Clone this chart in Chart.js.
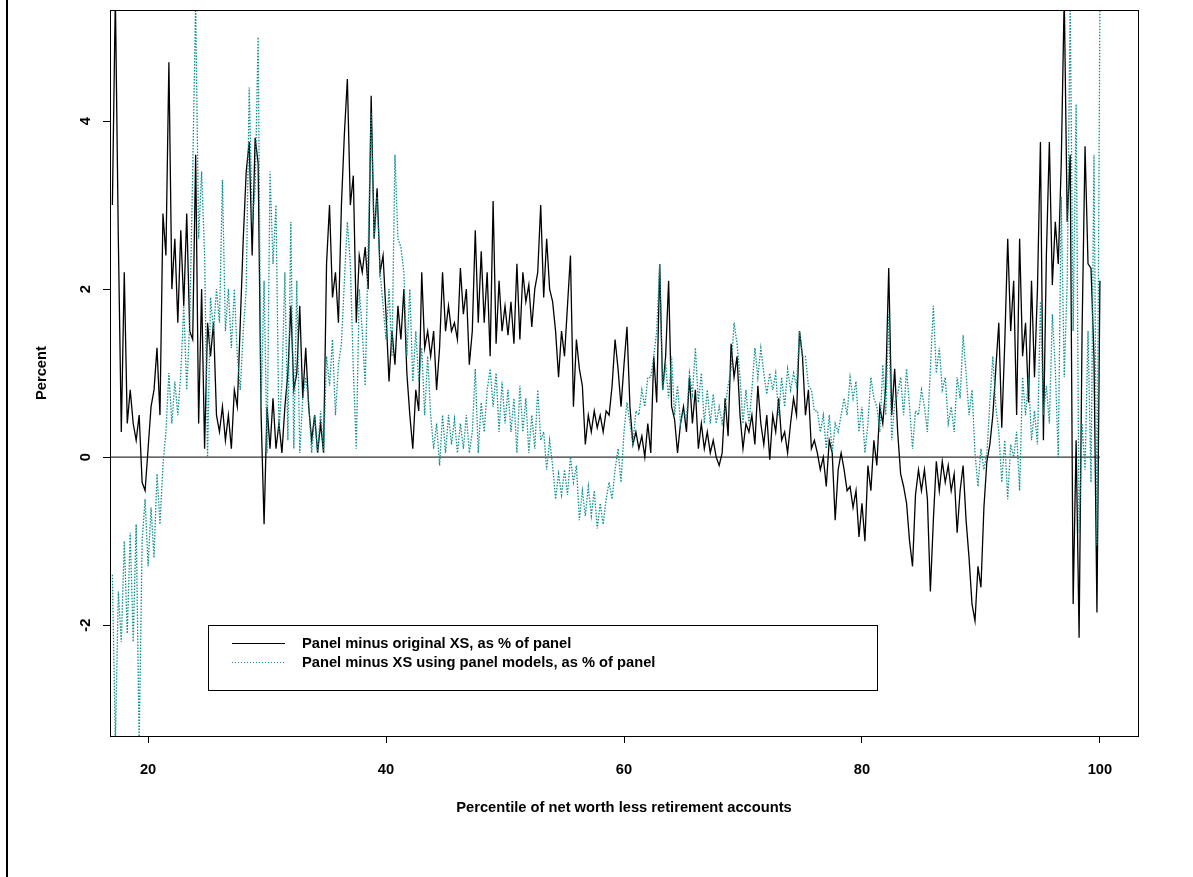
<!DOCTYPE html>
<html>
<head>
<meta charset="utf-8">
<title>Panel minus XS</title>
<script src="https://cdn.jsdelivr.net/npm/chart.js@4.4.0/dist/chart.umd.min.js"></script>
<style>
  html, body { margin: 0; padding: 0; background: #fff; }
  #wrap { position: relative; width: 1193px; height: 877px; }
</style>
</head>
<body>
<div id="wrap"><canvas id="xsChart" width="1193" height="877"></canvas></div>
<script>
// percentile grid: first point and spacing
const pctStart = 17;
const pctStep = 0.25;

// Panel minus original XS, as % of panel (one row per percentile: .00 .25 .50 .75)
const panelMinusOrigXS = [
  3.0, 5.5, 2.6, 0.3,      // 17
  2.2, 0.4, 0.8, 0.4,      // 18
  0.2, 0.5, -0.3, -0.4,    // 19
  0.1, 0.6, 0.8, 1.3,      // 20
  0.5, 2.9, 2.4, 4.7,      // 21
  2.0, 2.6, 1.6, 2.7,      // 22
  1.8, 2.9, 1.5, 1.4,      // 23
  3.6, 0.4, 2.0, 0.1,      // 24
  1.6, 1.2, 1.6, 0.5,      // 25
  0.3, 0.6, 0.2, 0.5,      // 26
  0.1, 0.8, 0.6, 1.6,      // 27
  2.6, 3.4, 3.75, 2.4,     // 28
  3.8, 3.5, 0.5, -0.8,     // 29
  0.6, 0.1, 0.7, 0.1,      // 30
  0.4, 0.05, 0.6, 1.0,     // 31
  1.8, 0.8, 1.0, 1.8,      // 32
  0.7, 1.3, 0.6, 0.2,      // 33
  0.5, 0.05, 0.4, 0.05,    // 34
  2.3, 3.0, 1.9, 2.2,      // 35
  1.6, 3.0, 3.85, 4.5,     // 36
  3.0, 3.35, 1.6, 2.4,     // 37
  2.2, 2.5, 2.0, 4.3,      // 38
  2.6, 3.2, 2.2, 2.4,      // 39
  1.7, 0.9, 1.5, 1.1,      // 40
  1.8, 1.4, 2.0, 1.0,      // 41
  0.5, 0.1, 0.8, 0.55,     // 42
  2.2, 1.3, 1.5, 1.2,      // 43
  1.5, 0.8, 1.3, 2.2,      // 44
  1.5, 1.8, 1.5, 1.6,      // 45
  1.4, 2.25, 1.7, 2.0,     // 46
  1.1, 1.5, 2.7, 1.6,      // 47
  2.45, 1.6, 2.2, 1.2,     // 48
  3.05, 1.35, 2.1, 1.5,    // 49
  1.8, 1.45, 1.85, 1.35,   // 50
  2.3, 1.4, 2.2, 1.85,     // 51
  2.05, 1.55, 2.0, 2.2,    // 52
  3.0, 1.9, 2.6, 2.0,      // 53
  1.85, 1.5, 0.95, 1.5,    // 54
  1.2, 1.8, 2.4, 0.6,      // 55
  1.4, 1.05, 0.85, 0.15,   // 56
  0.5, 0.3, 0.55, 0.35,    // 57
  0.5, 0.3, 0.55, 0.5,     // 58
  0.85, 1.4, 1.05, 0.6,    // 59
  1.1, 1.55, 0.6, 0.15,    // 60
  0.3, 0.1, 0.25, 0.0,     // 61
  0.4, 0.05, 1.2, 0.65,    // 62
  2.3, 0.8, 1.2, 2.1,      // 63
  0.6, 0.45, 0.05, 0.4,    // 64
  0.6, 0.3, 0.95, 0.4,     // 65
  0.8, 0.1, 0.4, 0.1,      // 66
  0.3, 0.05, 0.2, 0.0,     // 67
  -0.1, 0.05, 0.7, 0.25,   // 68
  1.35, 0.95, 1.2, 0.5,    // 69
  0.1, 0.4, 0.3, 0.5,      // 70
  0.15, 0.85, 0.4, 0.15,   // 71
  0.5, -0.03, 0.5, 0.3,    // 72
  0.7, 0.2, 0.3, 0.05,     // 73
  0.4, 0.7, 0.5, 1.5,      // 74
  1.2, 0.5, 0.8, 0.1,      // 75
  0.2, 0.05, -0.15, 0.0,   // 76
  -0.35, 0.2, 0.05, -0.75, // 77
  -0.15, 0.05, -0.15, -0.4,// 78
  -0.35, -0.6, -0.4, -0.95,// 79
  -0.55, -1.0, -0.1, -0.4, // 80
  0.2, -0.1, 0.6, 0.4,     // 81
  0.85, 2.25, 0.5, 1.05,   // 82
  0.3, -0.2, -0.35, -0.55, // 83
  -1.0, -1.3, -0.45, -0.15,// 84
  -0.4, -0.15, -0.5, -1.6, // 85
  -0.75, -0.05, -0.4, -0.05,// 86
  -0.3, -0.1, -0.4, -0.2,  // 87
  -0.9, -0.4, -0.1, -0.75, // 88
  -1.2, -1.75, -1.95, -1.3,// 89
  -1.55, -0.6, -0.05, 0.15,// 90
  0.5, 1.05, 1.6, 0.35,    // 91
  1.35, 2.6, 1.5, 2.1,     // 92
  0.5, 2.6, 1.2, 1.6,      // 93
  0.65, 2.1, 0.95, 2.0,    // 94
  3.75, 0.2, 2.4, 3.75,    // 95
  2.05, 2.8, 2.3, 3.5,     // 96
  5.5, 2.8, 3.6, -1.75,    // 97
  0.2, -2.15, 1.5, 3.7,    // 98
  2.3, 2.25, 1.2, -1.85,   // 99
  2.1                      // 100
];

// Panel minus XS using panel models, as % of panel
const panelMinusPanelXS = [
  -1.4, -3.4, -1.6, -2.2,  // 17
  -1.0, -2.1, -0.9, -2.2,  // 18
  -0.8, -3.4, -1.0, -0.5,  // 19
  -1.3, -0.6, -1.2, -0.2,  // 20
  -0.8, -0.1, 0.3, 1.0,    // 21
  0.4, 0.9, 0.5, 1.0,      // 22
  1.8, 0.8, 1.6, 3.4,      // 23
  5.4, 2.6, 3.4, 2.4,      // 24
  0.0, 1.9, 1.5, 2.0,      // 25
  1.6, 3.3, 1.5, 2.0,      // 26
  1.3, 2.0, 1.2, 0.8,      // 27
  1.5, 2.0, 4.4, 2.8,      // 28
  3.2, 5.0, 0.6, 2.1,      // 29
  0.05, 3.4, 2.3, 3.0,     // 30
  0.3, 0.9, 2.2, 0.2,      // 31
  2.8, 0.1, 2.1, 0.05,     // 32
  0.7, 0.95, 0.65, 0.05,   // 33
  0.5, 0.05, 0.55, 0.05,   // 34
  1.2, 0.85, 1.4, 0.5,     // 35
  1.1, 1.35, 2.1, 2.8,     // 36
  2.3, 1.05, 0.1, 2.0,     // 37
  1.5, 0.85, 2.5, 4.1,     // 38
  2.6, 3.1, 2.2, 1.8,      // 39
  1.4, 2.0, 1.2, 3.6,      // 40
  2.6, 2.5, 2.2, 1.2,      // 41
  2.0, 0.9, 1.5, 0.9,      // 42
  1.3, 0.5, 1.2, 0.5,      // 43
  0.1, 0.4, -0.1, 0.5,     // 44
  0.05, 0.5, 0.15, 0.45,   // 45
  0.05, 0.4, 0.1, 0.5,     // 46
  0.05, 0.3, 1.05, 0.05,   // 47
  0.65, 0.3, 0.8, 1.05,    // 48
  0.6, 1.0, 0.3, 0.9,      // 49
  0.4, 0.8, 0.3, 0.7,      // 50
  0.05, 0.85, 0.3, 0.7,    // 51
  0.05, 0.5, 0.1, 0.8,     // 52
  0.2, 0.3, -0.15, 0.2,    // 53
  -0.1, -0.5, -0.2, -0.45, // 54
  -0.15, -0.45, 0.0, -0.3, // 55
  -0.1, -0.75, -0.4, -0.7, // 56
  -0.35, -0.7, -0.4, -0.85,// 57
  -0.55, -0.8, -0.5, -0.3, // 58
  -0.5, -0.15, 0.1, -0.3,  // 59
  0.3, 0.65, 0.4, 0.15,    // 60
  0.55, 0.5, 0.8, 0.6,     // 61
  0.95, 0.95, 1.2, 1.5,    // 62
  2.3, 0.8, 1.1, 0.7,      // 63
  1.2, 0.5, 0.85, 0.4,     // 64
  0.55, 0.45, 1.0, 0.75,   // 65
  1.3, 0.65, 1.0, 0.4,     // 66
  0.8, 0.4, 0.75, 0.4,     // 67
  0.6, 0.4, 0.6, 0.85,     // 68
  1.05, 1.6, 1.35, 0.95,   // 69
  0.4, 0.8, 0.4, 0.8,      // 70
  1.3, 0.95, 1.3, 1.0,     // 71
  0.75, 1.0, 0.8, 1.0,     // 72
  0.5, 0.95, 0.6, 1.05,    // 73
  0.8, 1.0, 0.85, 1.5,     // 74
  1.2, 1.2, 0.85, 0.8,     // 75
  0.55, 0.55, 0.3, 0.5,    // 76
  0.1, 0.5, 0.05, 0.4,     // 77
  0.3, 0.5, 0.7, 0.5,      // 78
  0.95, 0.7, 0.9, 0.3,     // 79
  0.6, 0.05, 0.4, 0.95,    // 80
  0.7, 0.6, 0.3, 1.1,      // 81
  0.5, 1.7, 0.2, 0.65,     // 82
  0.75, 0.95, 0.5, 1.05,   // 83
  0.6, 0.1, 0.55, 0.5,     // 84
  0.8, 0.6, 0.3, 1.05,     // 85
  1.8, 1.0, 1.3, 0.8,      // 86
  0.95, 0.4, 0.6, 0.3,     // 87
  0.95, 0.7, 1.45, 1.0,    // 88
  0.5, 0.8, 0.05, -0.35,   // 89
  0.1, -0.15, 0.05, 0.65,  // 90
  1.2, 0.6, 0.3, -0.3,     // 91
  0.2, -0.5, 0.15, 0.0,    // 92
  0.3, -0.4, 0.95, 0.5,    // 93
  0.95, 0.2, 0.55, 0.15,   // 94
  1.85, 0.5, 0.85, 0.4,    // 95
  1.7, 1.05, 0.0, 3.1,     // 96
  0.95, 2.1, 5.4, 1.5,     // 97
  4.2, -0.9, 0.4, -0.15,   // 98
  1.5, -0.3, 3.6, -1.05,   // 99
  5.4                      // 100
];

const percentiles = panelMinusOrigXS.map((_, i) => pctStart + i * pctStep);

const xTicks = [20, 40, 60, 80, 100];
const yTicks = [-2, 0, 2, 4];
const xRange = [16.8, 103.2];
const yRange = [-3.32, 5.32];
const zeroLineEnd = 100;

const legendLabels = [
  'Panel minus original XS, as % of panel',
  'Panel minus XS using panel models, as % of panel'
];

const TEAL = '#0e8f8f';
const FONT = 'bold 14.7px "Liberation Sans", Arial, sans-serif';

const toPoints = (ys) => ys.map((y, i) => ({ x: percentiles[i], y }));

// frame, rotated y tick labels, legend box and the page rule on the left
const rDecor = {
    id: 'rDecor',
    afterDraw: (chart) => {
        const { ctx, chartArea: ca, scales } = chart;
        ctx.save();

        // page edge rule
        ctx.fillStyle = '#000';
        ctx.fillRect(6, 0, 2, chart.height);

        // box around plot region
        ctx.strokeStyle = '#000';
        ctx.lineWidth = 1;
        ctx.strokeRect(Math.round(ca.left) + 0.5, Math.round(ca.top) + 0.5,
            Math.round(ca.right - ca.left), Math.round(ca.bottom - ca.top));

        // y labels read bottom-to-top like R's las=0
        ctx.font = FONT;
        ctx.fillStyle = '#000';
        ctx.textAlign = 'center';
        ctx.textBaseline = 'middle';
        yTicks.forEach(v => {
            const y = scales.y.getPixelForValue(v);
            ctx.save();
            ctx.translate(86, y);
            ctx.rotate(-Math.PI / 2);
            ctx.fillText(String(v), 0, 0);
            ctx.restore();
        });

        // legend
        const lx = ca.left + 98, ly = ca.bottom - 111;
        const lw = 669, lh = 65;
        ctx.fillStyle = '#fff';
        ctx.fillRect(lx, ly, lw, lh);
        ctx.strokeRect(lx + 0.5, ly + 0.5, lw, lh);

        ctx.beginPath();
        ctx.strokeStyle = '#000';
        ctx.moveTo(lx + 24, ly + 18.5);
        ctx.lineTo(lx + 77, ly + 18.5);
        ctx.stroke();

        ctx.beginPath();
        ctx.strokeStyle = TEAL;
        ctx.setLineDash([1, 2]);
        ctx.moveTo(lx + 24, ly + 37.5);
        ctx.lineTo(lx + 77, ly + 37.5);
        ctx.stroke();
        ctx.setLineDash([]);

        ctx.fillStyle = '#000';
        ctx.textAlign = 'left';
        ctx.fillText(legendLabels[0], lx + 94, ly + 19);
        ctx.fillText(legendLabels[1], lx + 94, ly + 38);

        ctx.restore();
    }
};

new Chart(document.getElementById('xsChart'), {
    type: 'line',
    data: {
        datasets: [
            {
                label: legendLabels[1],
                data: toPoints(panelMinusPanelXS),
                borderColor: TEAL,
                borderWidth: 1.3,
                borderDash: [1.5, 1.5],
                pointRadius: 0,
                tension: 0,
                order: 0
            },
            {
                label: legendLabels[0],
                data: toPoints(panelMinusOrigXS),
                borderColor: '#000',
                borderWidth: 1.3,
                pointRadius: 0,
                tension: 0,
                order: 1
            },
            {
                label: 'zero',
                data: [{ x: xRange[0], y: 0 }, { x: zeroLineEnd, y: 0 }],
                borderColor: '#000',
                borderWidth: 1,
                pointRadius: 0,
                order: 2
            }
        ]
    },
    options: {
        responsive: false,
        animation: false,
        devicePixelRatio: 1,
        layout: { padding: { left: 0, top: 10, right: 55, bottom: 0 } },
        plugins: {
            legend: { display: false },
            tooltip: { enabled: false }
        },
        scales: {
            x: {
                type: 'linear',
                min: xRange[0],
                max: xRange[1],
                afterBuildTicks: (s) => { s.ticks = xTicks.map(v => ({ value: v })); },
                afterFit: (s) => { s.height = 141; },
                border: { display: false },
                grid: { drawOnChartArea: false, tickLength: 7, color: '#000' },
                ticks: {
                    color: '#000',
                    padding: 18,
                    maxRotation: 0,
                    font: { family: '"Liberation Sans", Arial, sans-serif', size: 14.7, weight: 'bold' }
                },
                title: {
                    display: true,
                    text: 'Percentile of net worth less retirement accounts',
                    color: '#000',
                    padding: { top: 0, bottom: 60 },
                    font: { family: '"Liberation Sans", Arial, sans-serif', size: 14.7, weight: 'bold' }
                }
            },
            y: {
                type: 'linear',
                min: yRange[0],
                max: yRange[1],
                afterBuildTicks: (s) => { s.ticks = yTicks.map(v => ({ value: v })); },
                afterFit: (s) => { s.width = 110; },
                border: { display: false },
                grid: { drawOnChartArea: false, tickLength: 7, color: '#000' },
                ticks: { callback: () => '' },
                title: {
                    display: true,
                    text: 'Percent',
                    color: '#000',
                    padding: { top: 33, bottom: 0 },
                    font: { family: '"Liberation Sans", Arial, sans-serif', size: 14.7, weight: 'bold' }
                }
            }
        }
    },
    plugins: [rDecor]
});
</script>
</body>
</html>
